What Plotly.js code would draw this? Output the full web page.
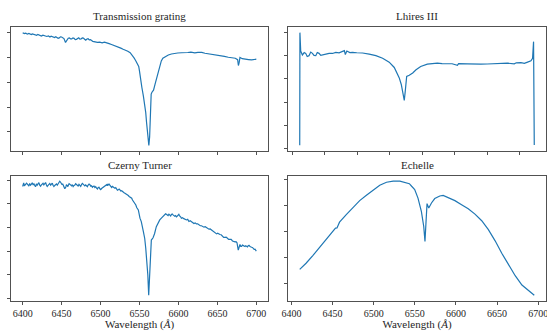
<!DOCTYPE html>
<html><head><meta charset="utf-8">
<script src="https://cdn.plot.ly/plotly-3.0.1.min.js"></script>
<style>html,body{margin:0;padding:0;background:#fff;}#chart{width:547px;height:331px;}</style>
</head><body><div id="chart"></div>
<script>
const panelTitles = ["Transmission grating", "Lhires III", "Czerny Turner", "Echelle"];
const xAxisLabel = "Wavelength (<i>Å</i>)";

// Transmission grating
const tgWave = [6400,6402,6404,6406,6408,6409.5,6411,6412.5,6414,6416,6418,6419.5,6421,6422.5,6424,6426,6428,6429.5,6431,6433,6435,6436.5,6438,6439.5,6441,6442.5,6444,6445.5,6447,6448.5,6450,6451.5,6453,6455,6457,6458.5,6460,6461.5,6463,6464.5,6466,6467.5,6469,6470.5,6472,6473.5,6475,6476.5,6478,6479.5,6481,6482.5,6484,6485.5,6487,6488.5,6490,6493,6496,6499,6502,6505,6508,6511,6514,6517,6520,6523,6526,6529,6532,6535,6538,6541,6543,6545,6547,6548,6549,6550,6551,6553,6555,6557,6558,6559,6560,6561,6562,6563,6564,6564.6,6565,6566,6567,6568,6570,6572,6574,6576,6578,6580,6583,6587,6591,6595,6599,6604,6608,6612,6616,6621,6625,6630,6634,6638,6642,6647,6651,6655,6659,6664,6668,6673,6676,6677,6678,6679,6682,6686,6690,6694,6697,6700];
const tgFlux = [1.000,0.992,0.996,0.988,0.993,0.986,0.984,0.990,0.987,0.977,0.979,0.986,0.983,0.975,0.972,0.980,0.976,0.970,0.969,0.974,0.965,0.971,0.968,0.961,0.960,0.967,0.963,0.955,0.958,0.966,0.965,0.960,0.952,0.921,0.947,0.955,0.957,0.949,0.950,0.958,0.954,0.944,0.946,0.955,0.958,0.948,0.949,0.957,0.956,0.947,0.940,0.949,0.951,0.942,0.944,0.936,0.930,0.926,0.921,0.923,0.918,0.924,0.920,0.911,0.904,0.898,0.888,0.884,0.875,0.866,0.860,0.850,0.838,0.818,0.796,0.776,0.754,0.740,0.728,0.690,0.630,0.560,0.489,0.410,0.357,0.280,0.200,0.130,0.092,0.160,0.350,0.470,0.505,0.520,0.530,0.537,0.585,0.635,0.690,0.740,0.772,0.794,0.808,0.820,0.828,0.833,0.836,0.838,0.842,0.840,0.843,0.837,0.841,0.841,0.834,0.830,0.828,0.825,0.819,0.814,0.809,0.802,0.798,0.794,0.782,0.735,0.760,0.800,0.790,0.784,0.783,0.780,0.784,0.786];

// Lhires III
const lhWave = [6361.3,6361.6,6362.8,6365.4,6368.2,6370.5,6372.8,6375.6,6378.2,6380.9,6383.3,6386,6388.3,6391,6393.7,6396.3,6401.4,6406.5,6411.7,6416.8,6421.9,6427.2,6430,6431.5,6433.8,6438.4,6442.6,6449.2,6458,6468.2,6478.5,6488.9,6499,6506.8,6510.9,6514.5,6517.6,6519.7,6522.2,6523.7,6524.8,6525.9,6529.9,6535.2,6540.3,6547.5,6557.7,6565,6573.1,6580.4,6588.5,6595.8,6604,6605.8,6619.4,6629.8,6640.1,6649.8,6660.6,6670.9,6681.1,6691.5,6694.6,6701.8,6707,6712,6717.2,6719.7,6720.6,6721.2,6722.3];
const lhFlux = [0.026,1.000,0.841,0.807,0.828,0.821,0.794,0.801,0.832,0.821,0.803,0.801,0.828,0.821,0.803,0.807,0.815,0.821,0.820,0.830,0.826,0.835,0.845,0.811,0.841,0.828,0.830,0.826,0.824,0.815,0.801,0.779,0.745,0.699,0.658,0.609,0.552,0.494,0.415,0.492,0.580,0.622,0.631,0.651,0.679,0.707,0.728,0.733,0.736,0.733,0.733,0.731,0.717,0.732,0.730,0.727,0.728,0.729,0.730,0.734,0.736,0.730,0.739,0.741,0.735,0.745,0.756,0.779,0.841,0.922,0.030];

// Czerny Turner
const ctWave = [6400,6401.3,6402.2,6403.2,6405,6406.8,6407.9,6409,6410.1,6411.2,6412.3,6413.5,6414.5,6415.5,6416.5,6417.6,6418.6,6419.7,6420.8,6421.9,6423,6424.1,6425.1,6426.1,6427.2,6428.3,6429.4,6430.5,6431.5,6432.6,6433.7,6434.8,6435.9,6437,6438,6439,6440.1,6441.2,6442.3,6443.4,6444.4,6445.5,6446.5,6447.6,6448.9,6449.7,6450.6,6451.3,6452.1,6453.2,6454.1,6455.4,6456.2,6457,6458,6458.8,6459.6,6460.5,6461.6,6462.7,6463.7,6464.8,6465.9,6467,6468,6469.1,6470.1,6471.2,6472.3,6473.4,6474.5,6475.6,6476.6,6477.6,6478.7,6479.8,6480.9,6482,6483,6484.1,6485.2,6486.3,6487.4,6488.5,6489.5,6490.5,6491.6,6492.7,6493.8,6494.9,6496,6497,6498,6499.1,6500.2,6501.3,6502.3,6503.4,6504.5,6505.6,6506.7,6507.8,6508.6,6509.4,6510.2,6511.1,6511.9,6512.7,6513.4,6514.2,6515.2,6516.3,6517.4,6518.5,6519.5,6520.6,6521.7,6522.7,6523.8,6524.9,6526,6527.1,6528.1,6529.1,6530.2,6531.3,6532.4,6533.5,6534.5,6535.6,6536.7,6537.8,6538.9,6540,6541,6542,6543.1,6544.2,6545.3,6546.4,6547.4,6548.5,6550.6,6552.3,6554.9,6556.7,6558,6559.7,6560.7,6561.8,6562.6,6563.5,6564.3,6565.2,6567.4,6569.3,6571.6,6573.8,6576,6578.1,6580.3,6581.4,6582.5,6583.5,6584.5,6585.6,6586.7,6587.8,6588.9,6590,6591,6592,6593.1,6594.2,6595.3,6596.3,6597.4,6598.2,6599,6599.7,6600.5,6601.3,6602.2,6603,6603.8,6605.3,6606.9,6608.6,6610.3,6611.9,6613.5,6615.1,6616.7,6618.3,6619.9,6621.5,6623.1,6624.7,6626.4,6628,6629.6,6631.2,6632.8,6634.4,6636,6637.6,6639.2,6640.8,6642.5,6643.7,6645,6646.3,6647.6,6649,6650.4,6651.8,6653.3,6654.9,6656.5,6658.1,6659.7,6661.3,6662.9,6664.5,6666.1,6667.7,6669.4,6671,6672.6,6673.9,6675.2,6676.8,6677.8,6678.4,6679,6680,6681.1,6682.2,6683.3,6684.4,6685.5,6686.5,6687.5,6688.6,6689.7,6690.8,6691.9,6693,6694,6695,6696.1,6697.2,6698.3,6699.1,6700];
const ctFlux = [0.946,0.976,0.952,0.963,0.975,0.961,0.950,0.972,0.957,0.966,0.978,0.959,0.968,0.955,0.944,0.968,0.958,0.969,0.978,0.957,0.948,0.961,0.972,0.974,0.960,0.972,0.980,0.959,0.947,0.955,0.966,0.972,0.958,0.966,0.975,0.957,0.946,0.955,0.967,0.968,0.957,0.972,0.978,0.991,0.980,0.968,0.961,0.970,0.951,0.940,0.927,0.942,0.962,0.955,0.946,0.959,0.970,0.966,0.958,0.952,0.962,0.946,0.955,0.959,0.970,0.961,0.950,0.951,0.964,0.955,0.947,0.963,0.972,0.966,0.956,0.951,0.960,0.949,0.945,0.959,0.967,0.961,0.949,0.952,0.940,0.946,0.950,0.938,0.945,0.932,0.925,0.938,0.940,0.927,0.920,0.929,0.935,0.938,0.946,0.951,0.957,0.961,0.952,0.968,0.960,0.966,0.957,0.951,0.944,0.938,0.947,0.942,0.930,0.932,0.937,0.925,0.914,0.918,0.925,0.917,0.907,0.910,0.902,0.897,0.893,0.889,0.885,0.878,0.876,0.870,0.862,0.857,0.855,0.847,0.832,0.821,0.818,0.804,0.790,0.768,0.751,0.748,0.678,0.649,0.566,0.506,0.425,0.308,0.197,0.025,0.155,0.365,0.453,0.493,0.512,0.546,0.606,0.640,0.663,0.678,0.691,0.700,0.704,0.715,0.711,0.703,0.700,0.712,0.700,0.697,0.710,0.714,0.706,0.700,0.695,0.700,0.689,0.694,0.704,0.713,0.711,0.700,0.695,0.688,0.677,0.682,0.674,0.668,0.663,0.668,0.650,0.656,0.649,0.642,0.633,0.638,0.629,0.630,0.619,0.614,0.614,0.611,0.602,0.606,0.597,0.588,0.585,0.587,0.578,0.572,0.559,0.558,0.549,0.545,0.551,0.544,0.540,0.538,0.525,0.516,0.515,0.518,0.508,0.498,0.498,0.498,0.485,0.478,0.478,0.479,0.470,0.408,0.444,0.452,0.455,0.440,0.440,0.450,0.444,0.436,0.438,0.445,0.436,0.435,0.446,0.447,0.438,0.430,0.432,0.430,0.421,0.414,0.415,0.410,0.399];

// Echelle
const ecWave = [6410,6417.7,6425.9,6434,6442.2,6450.4,6453.5,6455.3,6458.4,6466.6,6474.8,6482.9,6491.1,6499.3,6507.3,6515.5,6523.7,6531.8,6537.9,6543.3,6546.1,6549.8,6553.8,6557.9,6560.8,6562.3,6563.6,6564.8,6566.9,6570.2,6574.2,6580.3,6584.4,6590.5,6598.7,6606.8,6614.9,6623.1,6631.3,6639.4,6647.6,6655.7,6663.8,6672,6680.2,6688.3,6695.2];
const ecFlux = [0.310,0.357,0.416,0.478,0.538,0.608,0.628,0.629,0.674,0.732,0.783,0.840,0.881,0.918,0.959,0.982,0.990,0.990,0.982,0.971,0.951,0.926,0.860,0.757,0.641,0.525,0.680,0.817,0.783,0.822,0.856,0.876,0.881,0.866,0.840,0.809,0.778,0.736,0.685,0.616,0.530,0.434,0.344,0.261,0.189,0.143,0.110];

const W = 547, H = 331;
function padRange(a){const mn=Math.min(...a), mx=Math.max(...a), s=(mx-mn)*0.05; return [mn-s, mx+s];}
const font = "Liberation Serif, 'DejaVu Serif', serif";
const lineCol = "#1f77b4";
const series = [[tgWave,tgFlux],[lhWave,lhFlux],[ctWave,ctFlux],[ecWave,ecFlux]];
const xDom = [[11/W,268/W],[288/W,546/W],[11/W,268/W],[288/W,546/W]];
const yDom = [[1-151/H,1-27/H],[1-151/H,1-27/H],[1-301/H,1-175.5/H],[1-301/H,1-175.5/H]];

const traces = [];
const layout = {width:W, height:H, margin:{l:0,r:0,t:0,b:0}, paper_bgcolor:"#fff", plot_bgcolor:"#fff", showlegend:false, annotations:[]};
series.forEach((s,i)=>{
  const n = i+1, sfx = n===1?"":String(n);
  traces.push({x:s[0], y:s[1], type:"scatter", mode:"lines", line:{color:lineCol, width:1.2}, xaxis:"x"+sfx, yaxis:"y"+sfx, hoverinfo:"skip"});
  const base = {showline:true, mirror:true, linecolor:"#262626", linewidth:0.8, ticks:"outside", ticklen:3.5, tickwidth:0.8, tickcolor:"#262626", showgrid:false, zeroline:false, ticklabeloverflow:"allow", tickfont:{family:font, size:10, color:"#262626"}};
  layout["xaxis"+sfx] = Object.assign({}, base, {domain:xDom[i], range:padRange(s[0]), tick0:0, dtick:50, anchor:"y"+sfx, showticklabels: i>=2,
     title: i>=2 ? {text:xAxisLabel, font:{family:font, size:11, color:"#262626"}, standoff:3} : {text:""}});
  layout["yaxis"+sfx] = Object.assign({}, base, {domain:yDom[i], range:padRange(s[1]), tick0:0, dtick:0.2, anchor:"x"+sfx, showticklabels:false});
  layout.annotations.push({text:panelTitles[i], xref:"paper", yref:"paper", x:(xDom[i][0]+xDom[i][1])/2, y:yDom[i][1], xanchor:"center", yanchor:"bottom", yshift:3, showarrow:false, font:{family:font, size:11, color:"#262626"}});
});
Plotly.newPlot("chart", traces, layout, {staticPlot:true, displayModeBar:false});
</script></body></html>
